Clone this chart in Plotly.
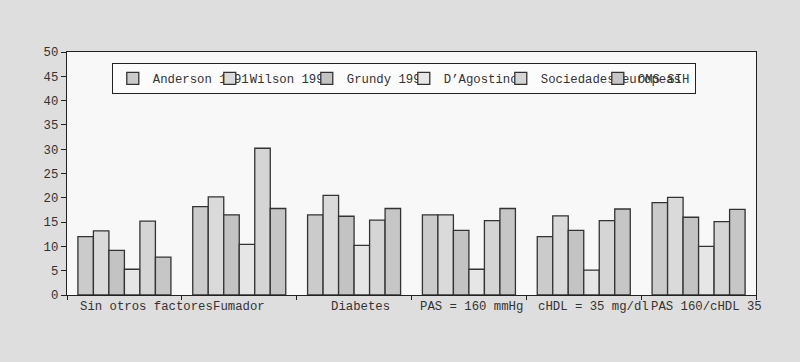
import plotly.graph_objects as go

categories = ["Sin otros factores", "Fumador", "Diabetes", "PAS = 160 mmHg",
              "cHDL = 35 mg/dl", "PAS 160/cHDL 35"]

series_names = ["Anderson 1991", "Wilson 1998", "Grundy 1999", "D\u2019Agostino",
                "Sociedades europeas", "OMS-SIH 1999"]
anderson = [12.0, 18.2, 16.5, 16.5, 12.0, 19.0]
wilson = [13.2, 20.2, 20.5, 16.5, 16.3, 20.1]
grundy = [9.2, 16.5, 16.2, 13.3, 13.3, 16.0]
dagostino = [5.3, 10.4, 10.2, 5.3, 5.1, 10.0]
sociedades = [15.2, 30.2, 15.4, 15.3, 15.3, 15.1]
oms = [7.8, 17.8, 17.8, 17.8, 17.7, 17.6]
series_values = [anderson, wilson, grundy, dagostino, sociedades, oms]
colors = ["#cbcbcb", "#dadada", "#c3c3c3", "#e6e6e6", "#d5d5d5", "#c6c6c6"]
# horizontal offsets (px) of the category labels, as in the original rendering
label_shift = [22, 0, 6, 3, 10, 8]

FONT = "Liberation Mono, Courier New, monospace"

fig = go.Figure()
for name, vals, col in zip(series_names, series_values, colors):
    fig.add_trace(go.Bar(
        x=categories, y=vals, name=name,
        marker=dict(color=col, line=dict(color="#333333", width=1.3)),
    ))

for cat, sh in zip(categories, label_shift):
    fig.add_annotation(
        x=cat, xref="x", y=0, yref="paper", yanchor="top", xanchor="center",
        text=cat, showarrow=False, xshift=sh, yshift=-3,
        font=dict(family=FONT, size=12.3, color="#333333"),
    )

fig.update_layout(
    width=800, height=362,
    margin=dict(l=67, r=44, t=52, b=67, autoexpand=False),
    paper_bgcolor="#dedede",
    plot_bgcolor="#f8f8f8",
    barmode="group",
    bargap=0.19,
    bargroupgap=0,
    font=dict(family=FONT, size=12.3, color="#333333"),
    showlegend=True,
    legend=dict(
        orientation="h",
        x=0.065, y=0.955, xanchor="left", yanchor="top",
        bgcolor="#fcfcfc", bordercolor="#222222", borderwidth=1,
        entrywidth=52, entrywidthmode="pixels",
        itemwidth=30,
        font=dict(family=FONT, size=12.3, color="#333333"),
        tracegroupgap=0,
    ),
    xaxis=dict(
        type="category", range=[-0.5, len(categories) - 0.5], autorange=False,
        showticklabels=False, automargin=False,
        tickson="boundaries", ticks="outside", ticklen=4, tickcolor="#222222",
        showline=True, linecolor="#222222", linewidth=1.3, mirror=True,
        showgrid=False,
    ),
    yaxis=dict(
        range=[0, 50], dtick=5, tick0=0, automargin=False,
        ticks="outside", ticklen=5, tickcolor="#222222",
        showline=True, linecolor="#222222", linewidth=1.3, mirror=True,
        showgrid=False, zeroline=False,
        tickfont=dict(family=FONT, size=12.3, color="#333333"),
    ),
)

fig.write_html("out.html")
